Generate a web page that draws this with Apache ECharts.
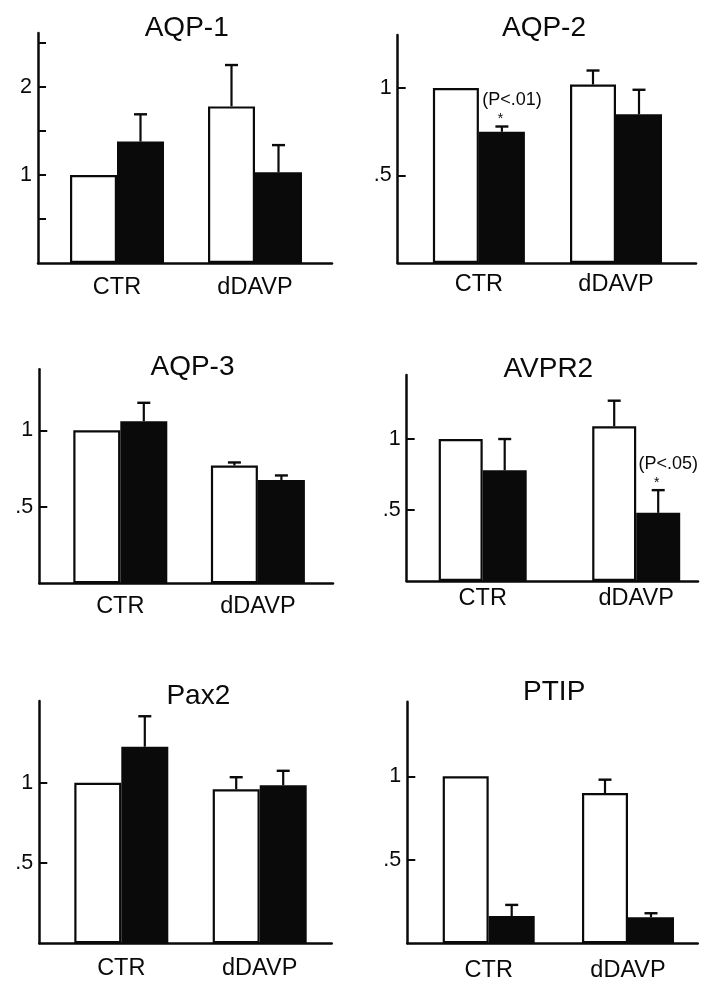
<!DOCTYPE html>
<html>
<head>
<meta charset="utf-8">
<script src="https://cdn.jsdelivr.net/npm/echarts@6/dist/echarts.min.js"></script>
<style>
html,body{margin:0;padding:0;background:#fff;}
#chart{width:711px;height:989px;}
</style>
</head>
<body>
<div id="chart"></div>
<script>
// ---------- data ----------
const panelTitles = ['AQP-1', 'AQP-2', 'AQP-3', 'AVPR2', 'Pax2', 'PTIP'];
const categories = ['CTR', 'dDAVP'];
// open (white) bars: mean per category
const openMeans = [[1.00, 1.78], [1.00, 1.02], [1.00, 0.77], [1.00, 1.09], [1.00, 0.96], [1.00, 0.90]];
const openErr   = [[0.00, 0.47], [0.00, 0.08], [0.00, 0.02], [0.00, 0.18], [0.00, 0.075], [0.00, 0.08]];
// filled (black) bars
const filledMeans = [[1.38, 1.03], [0.75, 0.85], [1.06, 0.675], [0.78, 0.48], [1.225, 0.985], [0.163, 0.156]];
const filledErr   = [[0.31, 0.31], [0.03, 0.14], [0.12, 0.03], [0.22, 0.16], [0.19, 0.09], [0.067, 0.024]];
// y axis ticks and labels
const yTickValues  = [[0.5, 1, 1.5, 2, 2.5], [0.5, 1], [0.5, 1], [0.5, 1], [0.5, 1], [0.5, 1]];
const yLabelValues = [[1, 2], [0.5, 1], [0.5, 1], [0.5, 1], [0.5, 1], [0.5, 1]];
// significance annotations (on filled bars)
const annotPanels = [1, 3];
const annotCats = [0, 1];
const annotTexts = ['(P<.01)', '(P<.05)'];

// ---------- layout (pixels) ----------
const layout = [
  {left: 38,    top: 33,    right: 332,   bottom: 263,   c1: 117,   c2: 255,   yMax: 2.614, barW: 47, tx: 186.7, ty: 28.5,  lm: 13},
  {left: 397.7, top: 35,    right: 696,   bottom: 263,   c1: 478.9, c2: 616,   yMax: 1.303, barW: 46, tx: 544,   ty: 28.5,  lm: 10},
  {left: 39.3,  top: 369.3, right: 333,   bottom: 583.3, c1: 120.3, c2: 257.9, yMax: 1.399, barW: 47, tx: 192.5, ty: 367.5, lm: 11},
  {left: 406.7, top: 375,   right: 698,   bottom: 581,   c1: 482.7, c2: 636.2, yMax: 1.451, barW: 44, tx: 548.3, ty: 369.5, lm: 6},
  {left: 39.3,  top: 701,   right: 331.7, bottom: 943.3, c1: 121.3, c2: 259.7, yMax: 1.51,  barW: 47, tx: 198.3, ty: 696.5, lm: 13},
  {left: 407.3, top: 701.7, right: 697.7, bottom: 943.3, c1: 488.7, c2: 628,   yMax: 1.447, barW: 46, tx: 554.2, ty: 692.5, lm: 15}
];

const FONT = '"Liberation Sans", Arial, Helvetica, sans-serif';
const INK = '#0a0a0a';

const grid = [], xAxis = [], yAxis = [], series = [], graphic = [];

function yFmt(v) {
  if (Math.abs(v - 0.5) < 1e-9) return '.5';
  return String(Math.round(v));
}

layout.forEach((L, i) => {
  const span = L.c2 - L.c1;
  grid.push({left: L.left, top: L.top, width: L.right - L.left, height: L.bottom - L.top, containLabel: false});
  xAxis.push({
    type: 'value', gridIndex: i,
    min: 1 - (L.c1 - L.left) / span,
    max: 2 + (L.right - L.c2) / span,
    axisLine: {show: true, onZero: false, lineStyle: {color: INK, width: 2.5}},
    axisTick: {show: false},
    splitLine: {show: false},
    axisLabel: {
      customValues: [1, 2],
      formatter: v => categories[Math.round(v) - 1],
      fontFamily: FONT, fontSize: 23.5, color: INK, margin: L.lm
    }
  });
  yAxis.push({
    type: 'value', gridIndex: i, min: 0, max: L.yMax,
    axisLine: {show: true, onZero: false, lineStyle: {color: INK, width: 2.5}},
    axisTick: {show: true, inside: true, length: 8, customValues: yTickValues[i], lineStyle: {color: INK, width: 2}},
    splitLine: {show: false},
    axisLabel: {
      customValues: yLabelValues[i], formatter: yFmt,
      fontFamily: FONT, fontSize: 21.5, color: INK, margin: 6
    }
  });
  series.push({
    type: 'bar', name: 'open', xAxisIndex: i, yAxisIndex: i,
    barWidth: L.barW, barGap: '0%',
    data: categories.map((c, k) => [k + 1, openMeans[i][k]]),
    itemStyle: {color: '#ffffff', borderColor: INK, borderWidth: 2.2},
    z: 2
  });
  series.push({
    type: 'bar', name: 'filled', xAxisIndex: i, yAxisIndex: i,
    barWidth: L.barW, barGap: '0%',
    data: categories.map((c, k) => [k + 1, filledMeans[i][k]]),
    itemStyle: {color: INK, borderColor: INK, borderWidth: 2.2},
    z: 2
  });
  // error bars (upper only)
  const errData = [];
  categories.forEach((c, k) => {
    if (openErr[i][k] > 0) errData.push([k + 1, openMeans[i][k], openErr[i][k], -1]);
    if (filledErr[i][k] > 0) errData.push([k + 1, filledMeans[i][k], filledErr[i][k], 1]);
  });
  const barW = L.barW;
  series.push({
    type: 'custom', name: 'sem', xAxisIndex: i, yAxisIndex: i,
    data: errData, z: 5, silent: true,
    encode: {x: 0, y: 1},
    renderItem: (params, api) => {
      const x = api.value(0), m = api.value(1), e = api.value(2), side = api.value(3);
      const p0 = api.coord([x, m]);
      const p1 = api.coord([x, m + e]);
      const dx = side * barW / 2;
      return {
        type: 'group',
        children: [
          {type: 'line', shape: {x1: p0[0] + dx, y1: p0[1], x2: p1[0] + dx, y2: p1[1]}, style: {stroke: INK, lineWidth: 2.2}},
          {type: 'line', shape: {x1: p1[0] + dx - 6.5, y1: p1[1], x2: p1[0] + dx + 6.5, y2: p1[1]}, style: {stroke: INK, lineWidth: 2.4}}
        ]
      };
    }
  });
  graphic.push({
    type: 'text', x: L.tx, y: L.ty,
    style: {text: panelTitles[i], font: '28px ' + FONT, fill: INK, align: 'center', verticalAlign: 'middle', textAlign: 'center', textVerticalAlign: 'middle'}
  });
});

// annotations
annotPanels.forEach((p, j) => {
  const k = annotCats[j];
  const barW = layout[p].barW;
  series.push({
    type: 'custom', name: 'significance', xAxisIndex: p, yAxisIndex: p,
    data: [[k + 1, filledMeans[p][k] + filledErr[p][k]]], z: 6, silent: true,
    encode: {x: 0, y: 1},
    renderItem: (params, api) => {
      const pt = api.coord([api.value(0), api.value(1)]);
      const cx = pt[0] + barW / 2;
      return {
        type: 'group',
        children: [
          {type: 'text', x: cx - 1.5, y: pt[1] - 7, style: {text: '*', font: '14px ' + FONT, fill: INK, align: 'center', verticalAlign: 'middle'}},
          {type: 'text', x: cx + 10, y: pt[1] - 26, style: {text: annotTexts[j], font: '18px ' + FONT, fill: INK, align: 'center', verticalAlign: 'middle'}}
        ]
      };
    }
  });
});

const chart = echarts.init(document.getElementById('chart'), null, {renderer: 'canvas'});
chart.setOption({
  backgroundColor: '#ffffff',
  animation: false,
  grid, xAxis, yAxis, series, graphic
});
</script>
</body>
</html>
